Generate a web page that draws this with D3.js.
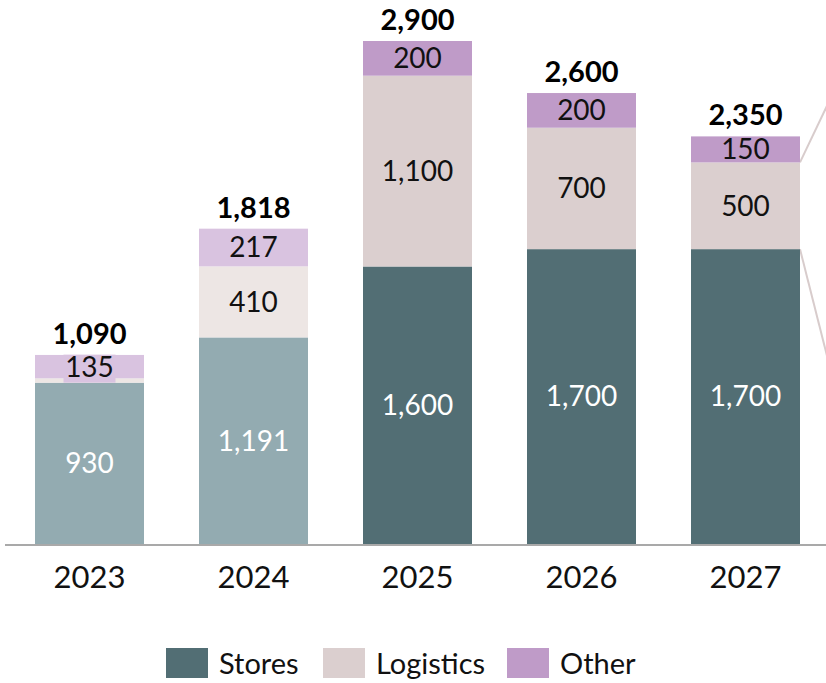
<!DOCTYPE html>
<html>
<head>
  <meta charset="utf-8" />
  <script src="https://d3js.org/d3.v7.min.js"></script>
  <style>
    body { margin: 0; background: #fff; }
    svg { display: block; font-family: 'Lato', 'Open Sans', sans-serif; }
  </style>
</head>
<body>
<div id="graph"></div>
<script>
  // chart data
  const years = ['2023', '2024', '2025', '2026', '2027']
  const stores = [930, 1191, 1600, 1700, 1700]
  const logistics = [25, 410, 1100, 700, 500]
  const other = [135, 217, 200, 200, 150]
  const totals = [1090, 1818, 2900, 2600, 2350]
  const logisticsLabels = [null, '410', '1,100', '700', '500']
  const seriesNames = ['Stores', 'Logistics', 'Other']

  // actuals (2023, 2024) lighter, plans darker
  const darkColors = ['#526e74', '#dbcfcf', '#bf9bc8']
  const lightColors = ['#93abb1', '#ede6e4', '#d9c3e0']
  const isLight = y => y === '2023' || y === '2024'

  const width = 826, height = 683
  const baseY = 544

  const svg = d3.select('#graph').append('svg')
    .attr('width', width)
    .attr('height', height)

  const x = d3.scaleBand()
    .domain(years)
    .range([35, 800])
    .paddingInner(55 / 164)
    .paddingOuter(0)

  const y = d3.scaleLinear()
    .domain([0, 2900])
    .range([baseY, 41])

  const rows = years.map((yr, i) => ({
    year: yr, Stores: stores[i], Logistics: logistics[i], Other: other[i]
  }))
  const stacked = d3.stack().keys(seriesNames)(rows)

  const fmt = d3.format(',')

  // connector lines to the (cut off) breakdown on the right
  const lastIdx = years.length - 1
  const rx = x(years[lastIdx]) + x.bandwidth()
  svg.append('line')
    .attr('x1', rx).attr('y1', y(stores[lastIdx] + logistics[lastIdx]))
    .attr('x2', rx + 40).attr('y2', y(stores[lastIdx] + logistics[lastIdx]) - 84)
    .attr('stroke', '#d8cccc').attr('stroke-width', 2)
  svg.append('line')
    .attr('x1', rx).attr('y1', y(stores[lastIdx]))
    .attr('x2', rx + 40).attr('y2', y(stores[lastIdx]) + 158)
    .attr('stroke', '#d8cccc').attr('stroke-width', 2)

  stacked.forEach((s, k) => {
    svg.append('g').selectAll('rect')
      .data(s)
      .join('rect')
      .attr('x', d => x(d.data.year))
      .attr('y', d => y(d[1]))
      .attr('width', x.bandwidth())
      .attr('height', d => y(d[0]) - y(d[1]))
      .attr('fill', d => (isLight(d.data.year) ? lightColors : darkColors)[k])
  })

  // segment labels
  const labels = svg.append('g').attr('font-size', 28)

  stacked[0].forEach((d, i) => {
    labels.append('text')
      .attr('x', x(years[i]) + x.bandwidth() / 2)
      .attr('y', (y(d[0]) + y(d[1])) / 2)
      .attr('dy', '0.35em')
      .attr('text-anchor', 'middle')
      .attr('fill', '#fff')
      .text(fmt(d.data.Stores))
  })

  stacked[1].forEach((d, i) => {
    if (!logisticsLabels[i]) return
    labels.append('text')
      .attr('x', x(years[i]) + x.bandwidth() / 2)
      .attr('y', (y(d[0]) + y(d[1])) / 2)
      .attr('dy', '0.35em')
      .attr('text-anchor', 'middle')
      .attr('fill', '#111')
      .text(logisticsLabels[i])
  })

  stacked[2].forEach((d, i) => {
    const cx = x(years[i]) + x.bandwidth() / 2
    const cy = (y(d[0]) + y(d[1])) / 2
    if (i === 0) {
      // small segment: label box sits over the thin logistics strip
      labels.append('rect')
        .attr('x', cx - 26).attr('y', cy - 12)
        .attr('width', 52).attr('height', 28)
        .attr('fill', lightColors[2])
    }
    labels.append('text')
      .attr('x', cx)
      .attr('y', i === 0 ? cy + 1 : cy)
      .attr('dy', '0.35em')
      .attr('text-anchor', 'middle')
      .attr('fill', '#111')
      .text(fmt(d.data.Other))
  })

  // totals
  svg.append('g').selectAll('text')
    .data(years)
    .join('text')
    .attr('x', d => x(d) + x.bandwidth() / 2)
    .attr('y', (d, i) => y(totals[i]) - 11)
    .attr('text-anchor', 'middle')
    .attr('font-size', 29)
    .attr('font-weight', 'bold')
    .attr('fill', '#000')
    .text((d, i) => fmt(totals[i]))

  // x axis
  const xAxis = svg.append('g')
    .attr('transform', 'translate(0,' + baseY + ')')
    .call(d3.axisBottom(x).tickSize(0).tickPadding(22))
  xAxis.select('.domain').remove()
  xAxis.append('line')
    .attr('x1', 5).attr('x2', width)
    .attr('y1', 1).attr('y2', 1)
    .attr('stroke', '#a9a9a9').attr('stroke-width', 2)
  xAxis.selectAll('.tick text')
    .attr('font-size', 31)
    .attr('font-family', "'Lato', sans-serif")
    .attr('fill', '#111')

  // legend
  const legendX = [166, 323, 507]
  const legend = svg.append('g')
  seriesNames.forEach((name, i) => {
    legend.append('rect')
      .attr('x', legendX[i]).attr('y', 648)
      .attr('width', 42).attr('height', 30)
      .attr('fill', darkColors[i])
    legend.append('text')
      .attr('x', legendX[i] + 53).attr('y', 664)
      .attr('dy', '0.35em')
      .attr('font-size', 29)
      .attr('fill', '#111')
      .text(name)
  })
</script>
</body>
</html>
